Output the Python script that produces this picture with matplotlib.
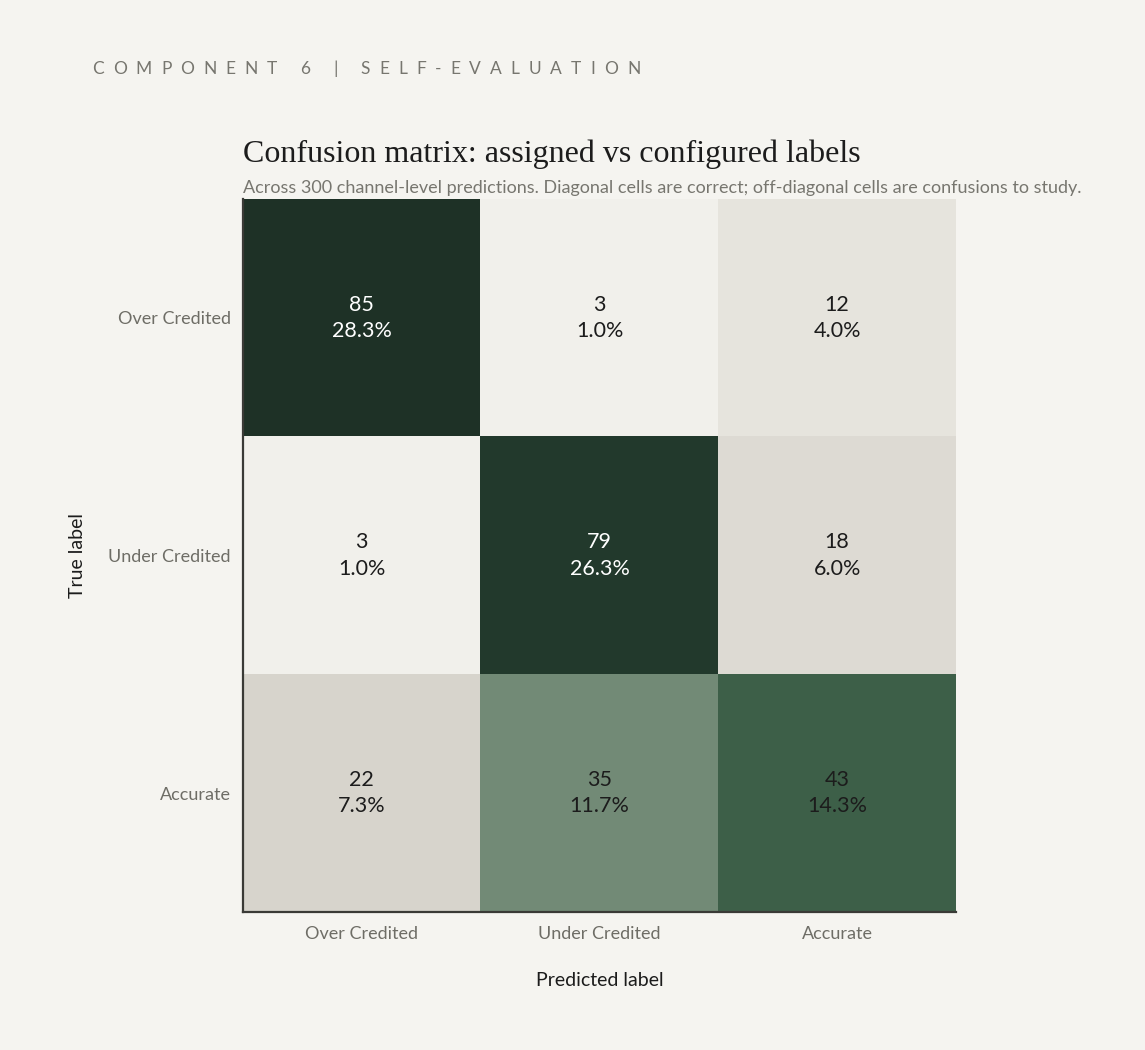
import numpy as np
import matplotlib
matplotlib.use('Agg')
import matplotlib.pyplot as plt
from matplotlib.colors import LinearSegmentedColormap

# data
classes = ['Over Credited', 'Under Credited', 'Accurate']
counts = np.array([[85, 3, 12],
                   [3, 79, 18],
                   [22, 35, 43]])
total = counts.sum()

bg = '#f5f4f0'
plt.rcParams['font.family'] = ['Lato', 'DejaVu Sans']

cmap = LinearSegmentedColormap.from_list('sage', [
    (0.0, '#f6f5f1'),
    (0.035, '#f2f1ec'),
    (0.14, '#e7e5de'),
    (0.26, '#d7d4cc'),
    (0.41, '#748b77'),
    (0.51, '#3b5e46'),
    (0.93, '#22392c'),
    (1.0, '#1e3126'),
])

fig = plt.figure(figsize=(11.45, 10.5), dpi=100, facecolor=bg)
W, H = 1145, 1050
ax = fig.add_axes([243/W, 1-912/H, 713/W, 713/H])
ax.set_facecolor(bg)
ax.imshow(counts, cmap=cmap, vmin=0, vmax=counts.max(), aspect='auto')

for i in range(3):
    for j in range(3):
        v = counts[i, j]
        col = 'white' if v > 60 else '#1c1c1c'
        ax.text(j, i, f'{v}\n{v/total*100:.1f}%', ha='center', va='center',
                fontsize=15.5, color=col, linespacing=1.4)

ax.set_xticks(range(3))
ax.set_xticklabels(classes, fontsize=13, color='#6e6d66')
ax.set_yticks(range(3))
ax.set_yticklabels(classes, fontsize=13, color='#6e6d66')
ax.tick_params(axis='y', length=0, pad=9)
ax.tick_params(axis='x', length=0, pad=10)
for s in ['top', 'right']:
    ax.spines[s].set_visible(False)
for s in ['left', 'bottom']:
    ax.spines[s].set_color('#3a3a36')
    ax.spines[s].set_linewidth(1.6)

ax.set_xlabel('Predicted label', fontsize=14, color='#1c1c1c', labelpad=22)
ax.set_ylabel('True label', fontsize=14, color='#1c1c1c', labelpad=16)

# letter-spaced header
renderer = fig.canvas.get_renderer()
header = 'COMPONENT 6 | SELF-EVALUATION'
x = 92.0
for ch in header:
    if ch == ' ':
        x += 14
        continue
    t = fig.text(x/W, 1-69/H, ch, fontsize=12.5, color='#77766f', va='center', ha='left')
    x += t.get_window_extent(renderer).width + 9.0

fig.text(243/W, 1-154/H, 'Confusion matrix: assigned vs configured labels',
         family=['Liberation Serif', 'DejaVu Serif'], fontsize=23, color='#1c1c1c',
         va='center', ha='left')
fig.text(243/W, 1-188/H,
         'Across 300 channel-level predictions. Diagonal cells are correct; off-diagonal cells are confusions to study.',
         fontsize=13, color='#77766f', va='center', ha='left')

fig.savefig('out.png', dpi=100, facecolor=bg)
